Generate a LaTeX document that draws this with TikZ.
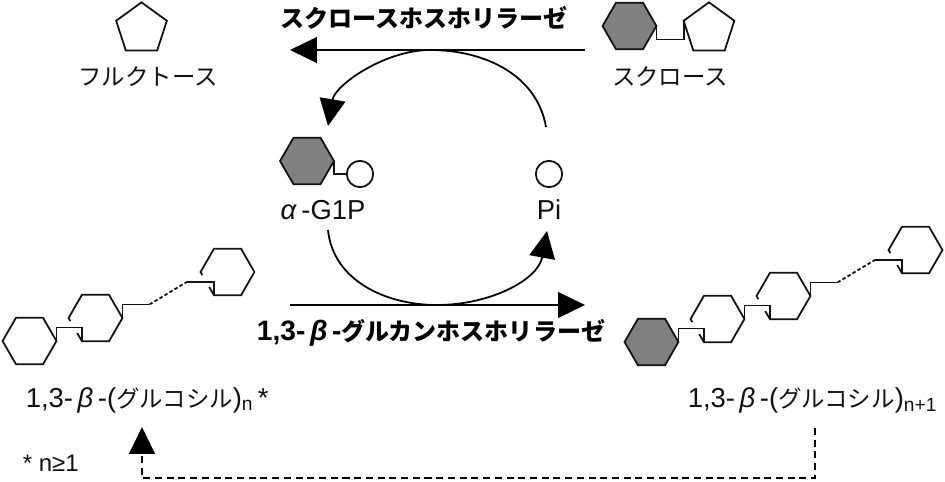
\documentclass[tikz,border=0pt]{standalone}
\usepackage{fontspec}
\setmainfont[Scale=1.17]{Liberation Sans}
\newfontfamily\jpfont{Noto Sans CJK JP}
\usetikzlibrary{arrows.meta,shapes.geometric,calc}
\definecolor{sugargray}{HTML}{808080}
\definecolor{linegray}{HTML}{111111}

\begin{document}
\begin{tikzpicture}[
  x=0.03cm, y=-0.03cm,
  >={Triangle[length=23pt,width=22pt]},
  line width=1.5pt,
  hexring/.style={draw=linegray, regular polygon, regular polygon sides=6, minimum size=46pt, inner sep=0pt, outer sep=0pt},
  hexdark/.style={hexring, fill=sugargray},
  pentring/.style={draw=linegray, regular polygon, regular polygon sides=5, minimum size=45.5pt, inner sep=0pt, outer sep=0pt},
  phosring/.style={draw=linegray, circle, minimum size=22.5pt, inner sep=0pt, outer sep=0pt},
  label/.style={font=\fontsize{20}{24}\selectfont, inner sep=0pt, text=linegray},
  enzyme/.style={font=\fontsize{20.5}{24}\selectfont\bfseries, inner sep=0pt, text=black},
  flow/.style={->, draw=black, line width=1.5pt},
  bond/.style={draw=linegray, line width=1.5pt},
  edgecut/.style={draw=white, line width=3.5pt}
]
  \useasboundingbox (0,0) rectangle (945,482);

  % top row
  \node[pentring] (fructose) at (141.5,29) {};
  \node[hexdark] (sucglc) at (629.5,26) {};
  \node[pentring] (sucfru) at (709,29) {};
  \draw[bond] (sucglc.0) -- ++(0,13.5) -| (sucfru.162);
  \node[label] (fructosetxt) at (148,77) {\jpfont フルクトース};
  \node[label] (sucrosetxt) at (670,77) {\jpfont スクロース};
  \node[enzyme] (sucpase) at (424,18) {\jpfont スクロースホスホリラーゼ};

  % middle
  \node[hexdark] (gonep) at (307,161) {};
  \node[phosring] (gonepp) at (360,174) {};
  \draw[bond] (gonep.0) |- (gonepp.west);
  \node[phosring] (pi) at (549,174) {};
  \node[label] (gonetxt) at (323,210) {\textit{α}\,-G1P};
  \node[label] (pitxt) at (549,210) {Pi};

  % straight arrows
  \coordinate (sucstart) at (585,50);
  \coordinate (sucend) at (290,50);
  \coordinate (glcstart) at (290,305);
  \coordinate (glcend) at (585,305);
  \draw[flow] (sucstart) -- (sucend);
  \draw[flow] (glcstart) -- (glcend);

  % curved arrows
  \coordinate (upstart) at (546,127);
  \coordinate (uptop) at (430,50);
  \coordinate (upend) at (328,126);
  \coordinate (downstart) at (328,230);
  \coordinate (downlow) at (437,305);
  \coordinate (downend) at (547,231);
  \draw[flow] (upstart) .. controls (537,75) and (485,50) .. (uptop) .. controls (385,50) and (335,85) .. (upend);
  \draw[flow] (downstart) .. controls (333,280) and (385,305) .. (downlow) .. controls (490,305) and (538,280) .. (downend);

  % left chain
  \node[hexring] (leftA) at (29.5,341) {};
  \node[hexring] (leftB) at (95.5,318) {};
  \node[hexring] (leftC) at (227.5,272) {};
  \node[enzyme] (glcpase) at (431,333) {1,3-\,\textit{β}\,-\jpfont グルカンホスホリラーゼ};
  \node[label, anchor=west] (lefttxt) at (25,400) {1,3-\,\textit{β}\,-({\jpfont グルコシル})\textsubscript{n}\,*};
  \node[label, anchor=west, font=\fontsize{17.5}{20}\selectfont] (ntxt) at (22,463) {* n≥1};

  % right chain
  \node[hexdark] (rightA) at (651.5,342) {};
  \node[hexring] (rightB) at (717.5,319) {};
  \node[hexring] (rightC) at (783.5,296) {};
  \node[hexring] (rightD) at (915.5,250) {};
  \node[label, anchor=east] (righttxt) at (938,400) {1,3-\,\textit{β}\,-({\jpfont グルコシル})\textsubscript{n+1}};

  % bonds between rings
  \foreach \from/\to in {leftA/leftB, rightA/rightB, rightB/rightC} {
    \draw[edgecut] ($(\to.180)!0.14!(\to.240)$) -- ($(\to.180)!0.64!(\to.240)$);
    \draw[bond] (\from.0) -- ++(0,-13.5) -| (\to.240);
  }
  \foreach \from/\to in {leftB/leftC, rightC/rightD} {
    \draw[edgecut] ($(\to.180)!0.14!(\to.240)$) -- ($(\to.180)!0.64!(\to.240)$);
    \coordinate (stubA) at ($(\from.0)+(27,-13.5)$);
    \coordinate (stubB) at ($(\to.240)+(-27,-13.5)$);
    \draw[bond] (\from.0) -- ++(0,-13.5) -- (stubA);
    \draw[bond, densely dashed] (stubA) -- (stubB);
    \draw[bond] (stubB) -| (\to.240);
  }

  % recycling line
  \coordinate (loopstart) at (815,428);
  \coordinate (loopend) at (142,427);
  \draw[flow, dashed, dash pattern=on 6pt off 4pt] (loopstart) -- (815,478) -- (142,478) -- (loopend);
\end{tikzpicture}
\end{document}
